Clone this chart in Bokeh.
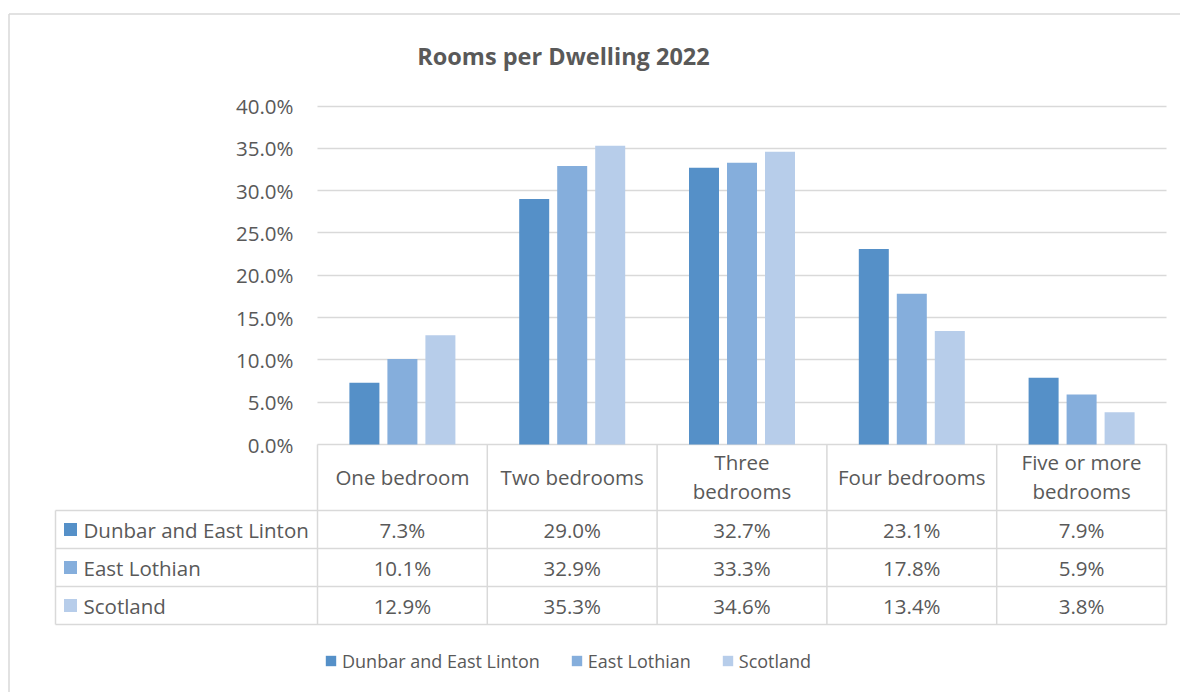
from bokeh.plotting import figure
from bokeh.models import (Range1d, LinearAxis, FixedTicker, PrintfTickFormatter, Grid,
                          Legend, LegendItem)
from bokeh.core.properties import value
from bokeh.embed import file_html
from bokeh.resources import INLINE

# ---------------- data ----------------
categories = ["One bedroom", "Two bedrooms", "Three bedrooms", "Four bedrooms", "Five or more bedrooms"]
header_labels = ["One bedroom", "Two bedrooms", "Three\nbedrooms", "Four bedrooms", "Five or more\nbedrooms"]
series_names = ["Dunbar and East Linton", "East Lothian", "Scotland"]
dunbar = [7.3, 29.0, 32.7, 23.1, 7.9]
east_lothian = [10.1, 32.9, 33.3, 17.8, 5.9]
scotland = [12.9, 35.3, 34.6, 13.4, 3.8]
y_ticks = [0, 5, 10, 15, 20, 25, 30, 35, 40]
title_text = "Rooms per Dwelling 2022"
colors = ["#5590C8", "#85AEDC", "#B7CDEA"]

series = [dunbar, east_lothian, scotland]

# ---------------- layout ----------------
W, H = 1180, 692
PL, PR = 317, 1166          # plot area left/right (canvas px)
PT, PB = 105.5, 444         # canvas y of top tick / zero line
ncat = len(categories)
col_w = (PR - PL) / ncat
x_start = -PL / col_w
x_end = (W - PL) / col_w
px_per = (PB - PT) / (y_ticks[-1] - y_ticks[0])
y_end = y_ticks[-1] + PT / px_per
y_start = -(H - PB) / px_per

GRID = "#D9D9D9"
TXT = "#595959"
FONT = "Open Sans"

p = figure(width=W, height=H, x_range=Range1d(x_start, x_end), y_range=Range1d(y_start, y_end),
           output_backend="svg", toolbar_location=None, x_axis_location=None, y_axis_location=None,
           min_border=0, outline_line_color=None)
p.center = [c for c in p.center if not isinstance(c, Grid)]
p.extra_x_ranges = {"px": Range1d(0, W)}
p.extra_y_ranges = {"py": Range1d(H, 0)}
p.background_fill_color = "white"
p.border_fill_color = "white"

# chart border (top / left visible)
p.segment(x0=[8.5, 8.5], y0=[13.5, 13.5], x1=[W, 8.5], y1=[13.5, H], x_range_name="px",
          y_range_name="py", line_color=GRID, line_width=1.5)

# grid
grid = Grid(dimension=1, ticker=FixedTicker(ticks=y_ticks), grid_line_color=GRID,
            grid_line_width=1.3, cross_bounds=(0, ncat))
p.add_layout(grid, "center")

# y axis
yaxis = LinearAxis(fixed_location=0, ticker=FixedTicker(ticks=y_ticks),
                   formatter=PrintfTickFormatter(format="%.1f%%"),
                   axis_line_color=None, major_tick_line_color=None, minor_tick_line_color=None,
                   major_tick_in=0, major_tick_out=0, minor_tick_in=0, minor_tick_out=0,
                   major_label_standoff=24, major_label_text_font=FONT,
                   major_label_text_font_size="20.5px", major_label_text_color=TXT)
p.add_layout(yaxis, "left")

# bars
off = 38 / col_w
bw = 30 / col_w
renderers = []
for k, (vals, col) in enumerate(zip(series, colors)):
    xs = [i + 0.5 + (k - 1) * off for i in range(ncat)]
    r = p.vbar(x=xs, top=vals, bottom=0, width=bw, fill_color=col, line_color=None)
    renderers.append(r)

# data table
row_h = 38
head_bot = PB + 66
row_lines = [head_bot + j * row_h for j in range(len(series) + 1)]
tbl_left = 55
# horizontal lines
p.segment(x0=[tbl_left] * len(row_lines), x1=[PR] * len(row_lines), y0=row_lines, y1=row_lines,
          x_range_name="px", y_range_name="py", line_color=GRID, line_width=1.5)
# vertical lines for category columns
p.segment(x0=list(range(ncat + 1)), x1=list(range(ncat + 1)), y0=[PB] * (ncat + 1),
          y1=[row_lines[-1]] * (ncat + 1), y_range_name="py", line_color=GRID, line_width=1.5)
# left border of label column
p.segment(x0=[tbl_left], x1=[tbl_left], y0=[head_bot], y1=[row_lines[-1]],
          x_range_name="px", y_range_name="py", line_color=GRID, line_width=1.5)

# header labels
p.text(x=[i + 0.5 for i in range(ncat)], y=[(PB + head_bot) / 2 - 1] * ncat, text=header_labels,
       y_range_name="py", text_font=value(FONT), text_font_size="20.5px", text_color=TXT,
       text_align="center", text_baseline="middle", text_line_height=1.07)

# rows
for k, (name, vals, col) in enumerate(zip(series_names, series, colors)):
    yc = (row_lines[k] + row_lines[k + 1]) / 2
    p.text(x=[i + 0.5 for i in range(ncat)], y=[yc] * ncat, text=[f"{v:.1f}%" for v in vals],
           y_range_name="py", text_font=value(FONT), text_font_size="20.5px", text_color=TXT,
           text_align="center", text_baseline="middle")
    p.scatter(x=[70], y=[yc], marker="square", size=13, fill_color=col, line_color=None,
              x_range_name="px", y_range_name="py")
    p.text(x=[83], y=[yc], text=[name], x_range_name="px", y_range_name="py",
           text_font=value(FONT), text_font_size="20.5px", text_color=TXT,
           text_align="left", text_baseline="middle")

# title
p.text(x=[563], y=[55], text=[title_text], x_range_name="px", y_range_name="py",
       text_font=value(FONT), text_font_size="23.5px", text_font_style="bold", text_color=TXT,
       text_align="center", text_baseline="middle")

# legend
legend = Legend(items=[LegendItem(label=n, renderers=[r]) for n, r in zip(series_names, renderers)],
                orientation="horizontal", location=(324, H - 672.5), glyph_width=13, glyph_height=13,
                label_standoff=5, spacing=30, padding=0, margin=0, border_line_color=None,
                background_fill_alpha=0, label_text_font=FONT, label_text_font_size="18px",
                label_text_color=TXT)
p.add_layout(legend, "center")

open("out.html", "w").write(file_html(p, INLINE))
